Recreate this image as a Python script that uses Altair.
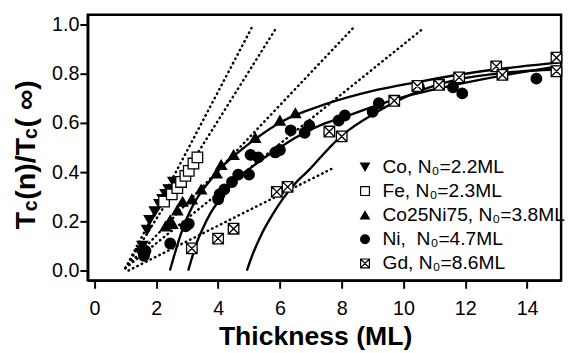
import altair as alt
import pandas as pd

# ---------------- data ----------------
series = ["Co, N\u2080=2.2ML", "Fe, N\u2080=2.3ML", "Co25Ni75, N\u2080=3.8ML",
          "Ni,\u00a0 N\u2080=4.7ML", "Gd, N\u2080=8.6ML"]

co_x = [1.5, 1.55, 1.7, 1.78, 1.95, 2.1, 2.2, 2.3, 2.4, 2.55]
co_y = [0.07, 0.10, 0.165, 0.205, 0.24, 0.27, 0.29, 0.31, 0.33, 0.36]

fe_x = [2.25, 2.5, 2.68, 2.8, 2.94, 3.05, 3.2, 3.33]
fe_y = [0.28, 0.31, 0.335, 0.36, 0.385, 0.405, 0.435, 0.46]

coni_x = [2.3, 2.45, 2.52, 2.68, 2.85, 3.15, 3.45, 3.95, 4.1, 4.5, 5.2, 6.0, 6.5]
coni_y = [0.18, 0.205, 0.19, 0.245, 0.28, 0.29, 0.33, 0.395, 0.43, 0.47, 0.54, 0.61, 0.64]

ni_x = [1.6, 1.65, 2.45, 2.95, 3.05, 4.0, 4.05, 4.2, 4.45, 4.65, 5.0, 5.05, 5.3,
        5.85, 6.0, 6.35, 6.8, 6.95, 7.9, 8.1, 9.0, 9.2, 10.5, 11.6, 11.9, 13.2, 14.3]
ni_y = [0.06, 0.08, 0.11, 0.18, 0.19, 0.29, 0.31, 0.33, 0.36, 0.39, 0.39, 0.47, 0.46,
        0.48, 0.49, 0.57, 0.56, 0.59, 0.61, 0.63, 0.645, 0.68, 0.745, 0.745, 0.72, 0.80, 0.78]

gd_x = [3.15, 4.0, 4.5, 5.9, 6.25, 7.6, 8.0, 9.7, 10.45, 11.15, 11.8, 13.0, 13.2, 14.95, 14.95]
gd_y = [0.09, 0.13, 0.17, 0.32, 0.34, 0.565, 0.545, 0.69, 0.75, 0.755, 0.785, 0.83, 0.795, 0.865, 0.81]

# dotted linear guides (start, end)
dot_names = ["Co", "Fe", "CoNi", "Ni", "Gd"]
dot_x0 = [1.0, 1.0, 1.0, 1.0, 1.1]
dot_y0 = [0.01, 0.01, 0.01, 0.01, 0.0]
dot_x1 = [5.1, 5.9, 8.4, 10.65, 7.7]
dot_y1 = [0.99, 0.99, 0.99, 0.985, 0.415]

# solid fit curves
fit_coni_x = [2.44, 2.6, 2.8, 3.05, 3.3, 3.7, 4.15, 4.6, 5.1, 6.05, 7.45, 9.0, 10.4, 12.0, 13.5, 15.0]
fit_coni_y = [0.0, 0.07, 0.15, 0.23, 0.29, 0.36, 0.425, 0.475, 0.525, 0.605, 0.675, 0.73, 0.765, 0.80, 0.825, 0.845]

fit_ni_x = [3.03, 3.15, 3.3, 3.5, 3.74, 4.0, 4.37, 4.8, 5.22, 6.07, 6.5, 7.45, 8.1, 9.7, 11.5, 13.1, 15.0]
fit_ni_y = [0.0, 0.05, 0.11, 0.17, 0.23, 0.28, 0.34, 0.39, 0.433, 0.506, 0.54, 0.598, 0.625, 0.695, 0.75, 0.79, 0.83]

fit_gd_x = [4.93, 5.1, 5.43, 5.75, 6.07, 6.5, 6.92, 7.45, 7.98, 9.15, 10.42, 11.8, 13.4, 15.0]
fit_gd_y = [0.0, 0.06, 0.154, 0.225, 0.287, 0.355, 0.406, 0.479, 0.546, 0.645, 0.725, 0.778, 0.805, 0.818]

x_ticks = [0, 2, 4, 6, 8, 10, 12, 14]
y_ticks = [0.0, 0.2, 0.4, 0.6, 0.8, 1.0]

# ---------------- tables ----------------
pts = []
for name, xs, ys in zip(series, [co_x, fe_x, coni_x, ni_x, gd_x], [co_y, fe_y, coni_y, ni_y, gd_y]):
    for a, b in zip(xs, ys):
        pts.append({"series": name, "x": a, "y": b})
points_df = pd.DataFrame(pts)

dots = []
for n, a0, b0, a1, b1 in zip(dot_names, dot_x0, dot_y0, dot_x1, dot_y1):
    dots.append({"g": n, "x": a0, "y": b0})
    dots.append({"g": n, "x": a1, "y": b1})
dots_df = pd.DataFrame(dots)

fits = []
for n, xs, ys in [("CoNi", fit_coni_x, fit_coni_y), ("Ni", fit_ni_x, fit_ni_y), ("Gd", fit_gd_x, fit_gd_y)]:
    for a, b in zip(xs, ys):
        fits.append({"g": n, "x": a, "y": b})
fits_df = pd.DataFrame(fits)

# ---------------- styling ----------------
FONT = "Liberation Sans"
x_scale = alt.Scale(domain=[-0.22, 15.1], nice=False, zero=False)
y_scale = alt.Scale(domain=[-0.04, 1.04], nice=False, zero=False)

x_axis = alt.Axis(values=x_ticks, title="Thickness (ML)", grid=False, tickSize=8, tickWidth=2,
                  tickColor="black", domainColor="black", domainWidth=2.5, labelFontSize=20,
                  labelFont=FONT, labelColor="black", labelPadding=11, labelFlush=False,
                  titleFont=FONT, titleFontSize=27, titleFontWeight="bold", titleColor="black",
                  titleX=231, titleY=65, titleBaseline="alphabetic", titleAlign="center")
y_axis = alt.Axis(values=y_ticks, format=".1f", title=None, grid=False, tickSize=8, tickWidth=2,
                  tickColor="black", domainColor="black", domainWidth=2.5, labelFontSize=20,
                  labelFont=FONT, labelColor="black", labelPadding=1, labelFlush=False)

gd_path = "M-1,-1H1V1H-1Z M-1,-1L1,1 M-1,1L1,-1"
shapes = ["triangle-down", "square", "triangle-up", "circle", gd_path]
fills = ["black", "white", "black", "black", "white"]
strokes = ["black", "black", "black", "black", "black"]

legend = alt.Legend(title=None, orient="none", legendX=272, legendY=145, labelFont=FONT,
                    labelFontSize=19.5, labelColor="black", symbolSize=80, rowPadding=3.5,
                    labelOffset=8, padding=0, labelLimit=400, symbolStrokeColor="black",
                    symbolStrokeWidth=1.2, symbolOpacity=1)

dotted = alt.Chart(dots_df).mark_line(strokeDash=[0.5, 4.5], strokeCap="round", strokeWidth=2.5,
                                      color="black").encode(
    x=alt.X("x:Q", scale=x_scale, axis=x_axis),
    y=alt.Y("y:Q", scale=y_scale, axis=y_axis),
    detail="g:N")

solid = alt.Chart(fits_df).mark_line(interpolate="monotone", strokeWidth=2.4, color="black").encode(
    x=alt.X("x:Q", scale=x_scale),
    y=alt.Y("y:Q", scale=y_scale),
    detail="g:N")

points = alt.Chart(points_df).mark_point(filled=True, size=115, strokeWidth=1.3,
                                         opacity=1).encode(
    x=alt.X("x:Q", scale=x_scale),
    y=alt.Y("y:Q", scale=y_scale),
    shape=alt.Shape("series:N", scale=alt.Scale(domain=series, range=shapes), legend=legend),
    fill=alt.Fill("series:N", scale=alt.Scale(domain=series, range=fills), legend=legend),
    stroke=alt.Stroke("series:N", scale=alt.Scale(domain=series, range=strokes), legend=legend))

# y-axis title built from pieces (subscripted c)
one = pd.DataFrame({"k": [0]})
def piece(txt, xpos, ypos, size):
    return alt.Chart(one).mark_text(text=txt, angle=270, align="left", baseline="alphabetic",
                                    font=FONT, fontSize=size, fontWeight="bold",
                                    color="black").encode(x=alt.value(xpos), y=alt.value(ypos))

title_parts = [
    piece("T", -53.5, 218, 29),
    piece("c", -51.5, 199.7, 20),
    piece("(n)/T", -53.5, 188, 29),
    piece("c", -51.5, 126.3, 20),
    piece("( \u221e)", -53.5, 114.7, 29),
]

chart = alt.layer(dotted, solid, points, *title_parts).properties(
    width=481, height=270,
    autosize=alt.AutoSizeParams(type="none"),
    padding={"left": 81, "top": 4, "right": 7, "bottom": 70},
).configure_view(stroke="black", strokeWidth=2.5)

chart.save("out.html", embed_options={"renderer": "svg", "actions": False})
